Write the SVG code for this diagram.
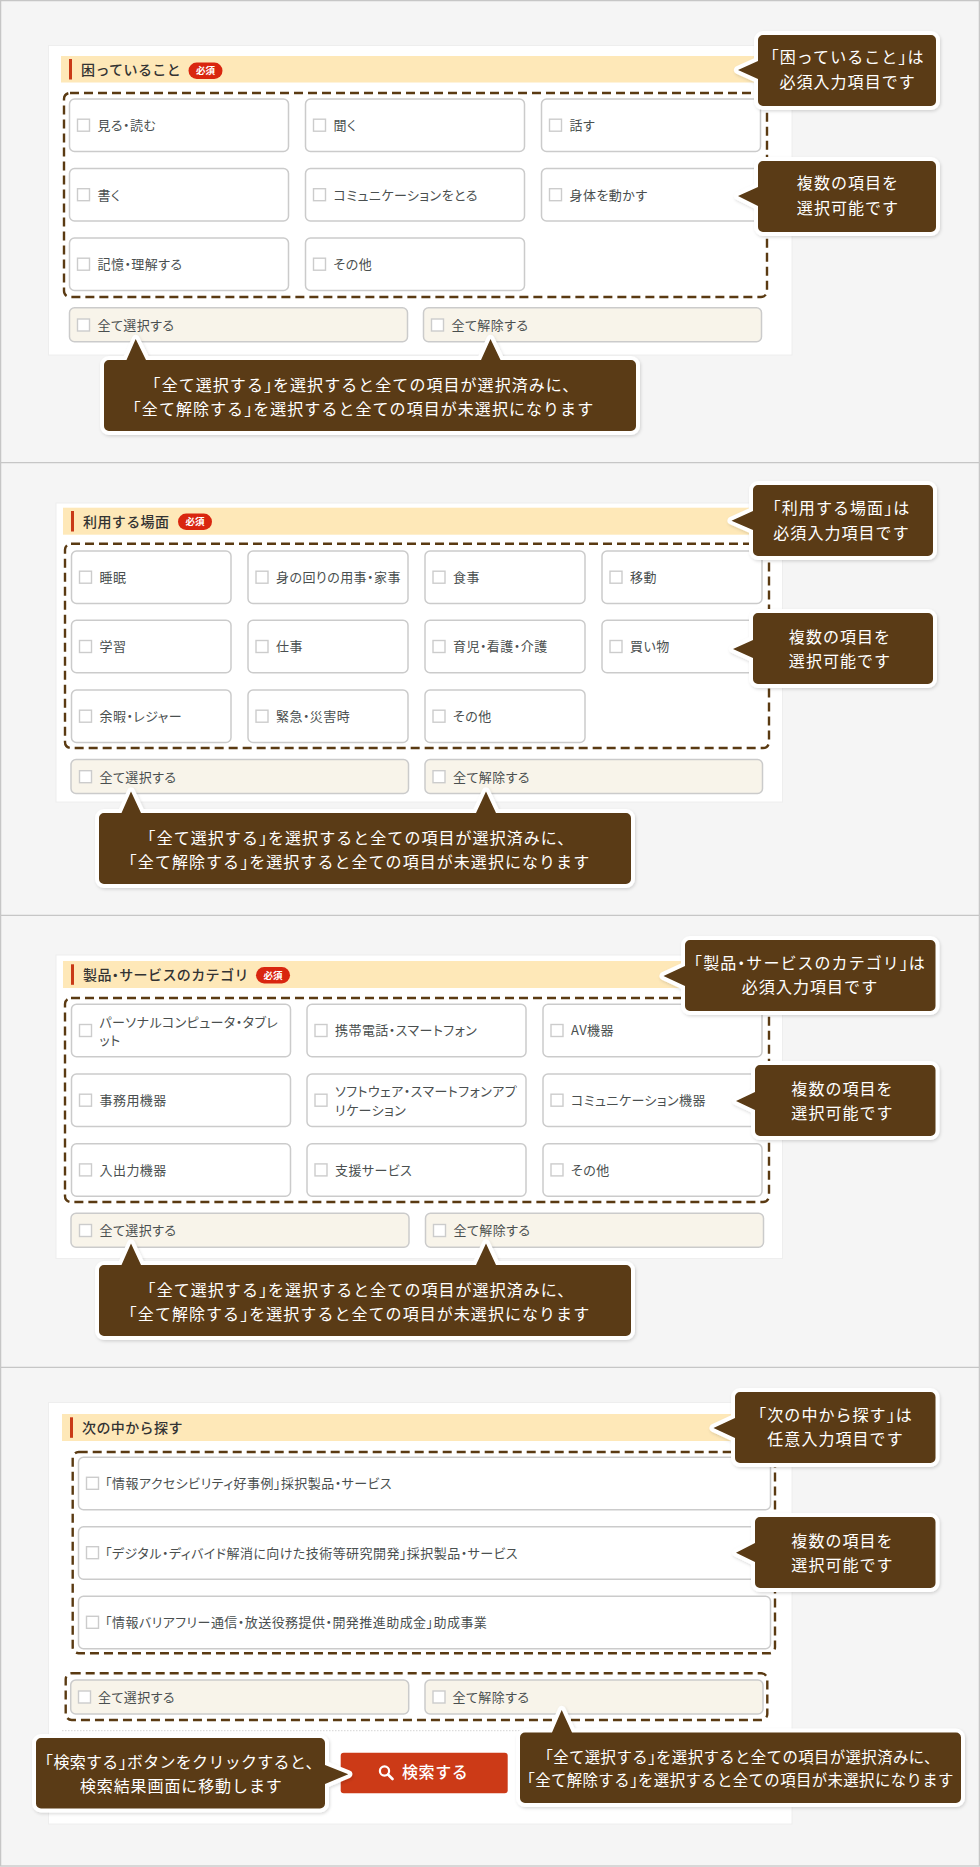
<svg xmlns="http://www.w3.org/2000/svg" width="980" height="1867" viewBox="0 0 980 1867">
<defs>
<filter id="sh" x="-10%" y="-20%" width="120%" height="140%"><feDropShadow dx="1" dy="1.5" stdDeviation="1.8" flood-color="#000" flood-opacity="0.14"/></filter>
<style>
text{font-family:"Noto Sans CJK JP","Noto Sans",sans-serif}
.h{font-feature-settings:"halt"}
.line{stroke:#c6c6c6;stroke-width:1.3;fill:none}
.card{fill:#fff;stroke:#eeeeee;stroke-width:1}
.band{fill:#fee8b8}
.bar{fill:#c93a17}
.title{font-size:14px;font-weight:500;fill:#333;letter-spacing:.4px}
.badge{fill:#d9260f}
.bt{font-size:9.5px;font-weight:700;fill:#fff;text-anchor:middle}
.dash{fill:none;stroke:#5a3a12;stroke-width:2.4;stroke-dasharray:9 5}
.opt{fill:#fff;stroke:#cbcbcb;stroke-width:1.5}
.sel{fill:#f8f4ea;stroke:#cbcbcb;stroke-width:1.5}
.cb{fill:#fff;stroke:#cccccc;stroke-width:1.4}
.t{font-size:13px;fill:#4a4f4f;letter-spacing:.45px;font-feature-settings:"palt"}
.co{fill:#5a3a12;stroke:#fff;stroke-width:8;stroke-linejoin:round;paint-order:stroke;filter:url(#sh)}
.ct{font-size:16px;fill:#fff;text-anchor:middle;letter-spacing:1.05px}
.s{font-size:15.4px;letter-spacing:.4px}
</style>
</defs>
<rect width="980" height="1867" fill="#f5f5f5"/>
<rect class="line" x="0.6" y="0.6" width="978.8" height="1865.4"/>
<path class="line" d="M0 462.6H980M0 915.4H980M0 1367.4H980"/>

<g id="panel-1">
<rect class="card" x="48.5" y="45.5" width="743.5" height="309.5"/>
<rect class="band" x="61" y="56" width="718" height="26.5"/>
<rect class="bar" x="69" y="59" width="3" height="20.5"/>
<text class="title" x="81" y="74.5">困っていること</text>
<rect class="badge" x="188.5" y="62.5" width="34" height="16.5" rx="8.2"/>
<text class="bt" x="205.5" y="74.2">必須</text>
<rect class="dash" x="64" y="93" width="703" height="204" rx="6"/>
<g id="p1-o1"><rect class="opt" x="69.5" y="99" width="219" height="52.5" rx="5"/><rect class="cb" x="77.5" y="119.2" width="12" height="12"/><text class="t" x="97.5" y="130">見る・読む</text></g>
<g id="p1-o2"><rect class="opt" x="305.5" y="99" width="219" height="52.5" rx="5"/><rect class="cb" x="313.5" y="119.2" width="12" height="12"/><text class="t" x="333.5" y="130">聞く</text></g>
<g id="p1-o3"><rect class="opt" x="541.5" y="99" width="219" height="52.5" rx="5"/><rect class="cb" x="549.5" y="119.2" width="12" height="12"/><text class="t" x="569.5" y="130">話す</text></g>
<g id="p1-o4"><rect class="opt" x="69.5" y="168.5" width="219" height="52.5" rx="5"/><rect class="cb" x="77.5" y="188.7" width="12" height="12"/><text class="t" x="97.5" y="199.5">書く</text></g>
<g id="p1-o5"><rect class="opt" x="305.5" y="168.5" width="219" height="52.5" rx="5"/><rect class="cb" x="313.5" y="188.7" width="12" height="12"/><text class="t" x="333.5" y="199.5">コミュニケーションをとる</text></g>
<g id="p1-o6"><rect class="opt" x="541.5" y="168.5" width="219" height="52.5" rx="5"/><rect class="cb" x="549.5" y="188.7" width="12" height="12"/><text class="t" x="569.5" y="199.5">身体を動かす</text></g>
<g id="p1-o7"><rect class="opt" x="69.5" y="238" width="219" height="52.5" rx="5"/><rect class="cb" x="77.5" y="258.2" width="12" height="12"/><text class="t" x="97.5" y="269">記憶・理解する</text></g>
<g id="p1-o8"><rect class="opt" x="305.5" y="238" width="219" height="52.5" rx="5"/><rect class="cb" x="313.5" y="258.2" width="12" height="12"/><text class="t" x="333.5" y="269">その他</text></g>
<g id="p1-all"><rect class="sel" x="69.5" y="307.8" width="338" height="34" rx="5"/><rect class="cb" x="77.5" y="319" width="12" height="12"/><text class="t" x="97.5" y="329.8">全て選択する</text></g>
<g id="p1-none"><rect class="sel" x="423.5" y="307.8" width="338" height="34" rx="5"/><rect class="cb" x="431.5" y="319" width="12" height="12"/><text class="t" x="451.5" y="329.8">全て解除する</text></g>
</g>

<g id="panel-2">
<rect class="card" x="56" y="503" width="726.5" height="299"/>
<rect class="band" x="63" y="507.7" width="716" height="27"/>
<rect class="bar" x="71" y="511" width="3" height="20.5"/>
<text class="title" x="83" y="526.5">利用する場面</text>
<rect class="badge" x="178" y="513.5" width="34" height="16.5" rx="8.2"/>
<text class="bt" x="195" y="525.2">必須</text>
<rect class="dash" x="65" y="543.7" width="704" height="204.3" rx="6"/>
<g id="p2-o1"><rect class="opt" x="71.5" y="551" width="159.5" height="52.5" rx="5"/><rect class="cb" x="79.5" y="571.2" width="12" height="12"/><text class="t" x="99.5" y="582">睡眠</text></g>
<g id="p2-o2"><rect class="opt" x="248" y="551" width="160" height="52.5" rx="5"/><rect class="cb" x="256" y="571.2" width="12" height="12"/><text class="t" x="276" y="582">身の回りの用事・家事</text></g>
<g id="p2-o3"><rect class="opt" x="425" y="551" width="160" height="52.5" rx="5"/><rect class="cb" x="433" y="571.2" width="12" height="12"/><text class="t" x="453" y="582">食事</text></g>
<g id="p2-o4"><rect class="opt" x="602" y="551" width="160" height="52.5" rx="5"/><rect class="cb" x="610" y="571.2" width="12" height="12"/><text class="t" x="630" y="582">移動</text></g>
<g id="p2-o5"><rect class="opt" x="71.5" y="620.3" width="159.5" height="52.5" rx="5"/><rect class="cb" x="79.5" y="640.5" width="12" height="12"/><text class="t" x="99.5" y="651.3">学習</text></g>
<g id="p2-o6"><rect class="opt" x="248" y="620.3" width="160" height="52.5" rx="5"/><rect class="cb" x="256" y="640.5" width="12" height="12"/><text class="t" x="276" y="651.3">仕事</text></g>
<g id="p2-o7"><rect class="opt" x="425" y="620.3" width="160" height="52.5" rx="5"/><rect class="cb" x="433" y="640.5" width="12" height="12"/><text class="t" x="453" y="651.3">育児・看護・介護</text></g>
<g id="p2-o8"><rect class="opt" x="602" y="620.3" width="160" height="52.5" rx="5"/><rect class="cb" x="610" y="640.5" width="12" height="12"/><text class="t" x="630" y="651.3">買い物</text></g>
<g id="p2-o9"><rect class="opt" x="71.5" y="690" width="159.5" height="52.5" rx="5"/><rect class="cb" x="79.5" y="710.2" width="12" height="12"/><text class="t" x="99.5" y="721">余暇・レジャー</text></g>
<g id="p2-o10"><rect class="opt" x="248" y="690" width="160" height="52.5" rx="5"/><rect class="cb" x="256" y="710.2" width="12" height="12"/><text class="t" x="276" y="721">緊急・災害時</text></g>
<g id="p2-o11"><rect class="opt" x="425" y="690" width="160" height="52.5" rx="5"/><rect class="cb" x="433" y="710.2" width="12" height="12"/><text class="t" x="453" y="721">その他</text></g>
<g id="p2-all"><rect class="sel" x="71" y="759.5" width="337.5" height="34" rx="5"/><rect class="cb" x="79.5" y="770.7" width="12" height="12"/><text class="t" x="99.5" y="781.5">全て選択する</text></g>
<g id="p2-none"><rect class="sel" x="425" y="759.5" width="337.5" height="34" rx="5"/><rect class="cb" x="433" y="770.7" width="12" height="12"/><text class="t" x="453" y="781.5">全て解除する</text></g>
</g>

<g id="panel-3">
<rect class="card" x="56" y="955" width="726.5" height="303.5"/>
<rect class="band" x="63" y="961" width="716" height="27"/>
<rect class="bar" x="71" y="964.3" width="3" height="20.5"/>
<text class="title" x="83" y="979.7">製品<tspan class="h">・</tspan>サービスのカテゴリ</text>
<rect class="badge" x="256" y="967" width="34" height="16.5" rx="8.2"/>
<text class="bt" x="273" y="978.7">必須</text>
<rect class="dash" x="65" y="998" width="704" height="204" rx="6"/>
<g id="p3-o1"><rect class="opt" x="71.5" y="1004.3" width="219" height="52.5" rx="5"/><rect class="cb" x="79.5" y="1024.5" width="12" height="12"/><text class="t" x="99.5" y="1026.5">パーソナルコンピュータ・タブレ</text><text class="t" x="99.5" y="1045">ット</text></g>
<g id="p3-o2"><rect class="opt" x="307" y="1004.3" width="219" height="52.5" rx="5"/><rect class="cb" x="315" y="1024.5" width="12" height="12"/><text class="t" x="335" y="1035.3">携帯電話・スマートフォン</text></g>
<g id="p3-o3"><rect class="opt" x="543" y="1004.3" width="219" height="52.5" rx="5"/><rect class="cb" x="551" y="1024.5" width="12" height="12"/><text class="t" x="571" y="1035.3">AV機器</text></g>
<g id="p3-o4"><rect class="opt" x="71.5" y="1074" width="219" height="52.5" rx="5"/><rect class="cb" x="79.5" y="1094.2" width="12" height="12"/><text class="t" x="99.5" y="1105">事務用機器</text></g>
<g id="p3-o5"><rect class="opt" x="307" y="1074" width="219" height="52.5" rx="5"/><rect class="cb" x="315" y="1094.2" width="12" height="12"/><text class="t" x="335" y="1096.3">ソフトウェア・スマートフォンアプ</text><text class="t" x="335" y="1114.7">リケーション</text></g>
<g id="p3-o6"><rect class="opt" x="543" y="1074" width="219" height="52.5" rx="5"/><rect class="cb" x="551" y="1094.2" width="12" height="12"/><text class="t" x="571" y="1105">コミュニケーション機器</text></g>
<g id="p3-o7"><rect class="opt" x="71.5" y="1143.7" width="219" height="52.5" rx="5"/><rect class="cb" x="79.5" y="1163.9" width="12" height="12"/><text class="t" x="99.5" y="1174.7">入出力機器</text></g>
<g id="p3-o8"><rect class="opt" x="307" y="1143.7" width="219" height="52.5" rx="5"/><rect class="cb" x="315" y="1163.9" width="12" height="12"/><text class="t" x="335" y="1174.7">支援サービス</text></g>
<g id="p3-o9"><rect class="opt" x="543" y="1143.7" width="219" height="52.5" rx="5"/><rect class="cb" x="551" y="1163.9" width="12" height="12"/><text class="t" x="571" y="1174.7">その他</text></g>
<g id="p3-all"><rect class="sel" x="71" y="1213.3" width="338" height="34" rx="5"/><rect class="cb" x="79.5" y="1224.5" width="12" height="12"/><text class="t" x="99.5" y="1235.3">全て選択する</text></g>
<g id="p3-none"><rect class="sel" x="425.5" y="1213.3" width="338" height="34" rx="5"/><rect class="cb" x="433.5" y="1224.5" width="12" height="12"/><text class="t" x="453.5" y="1235.3">全て解除する</text></g>
</g>

<g id="panel-4">
<rect class="card" x="48.5" y="1402.5" width="743.5" height="421.5"/>
<rect class="band" x="62" y="1414" width="717" height="27"/>
<rect class="bar" x="70" y="1417.3" width="3" height="20.5"/>
<text class="title" x="82" y="1432.7">次の中から探す</text>
<rect class="dash" x="72.7" y="1452" width="702.3" height="201.3" rx="6"/>
<g id="p4-o1"><rect class="opt" x="78.5" y="1457.3" width="692" height="52.5" rx="5"/><rect class="cb" x="86.5" y="1477.3" width="12" height="12"/><text class="t" x="105" y="1488">「情報アクセシビリティ好事例」採択製品・サービス</text></g>
<g id="p4-o2"><rect class="opt" x="78.5" y="1526.7" width="692" height="52.5" rx="5"/><rect class="cb" x="86.5" y="1546.7" width="12" height="12"/><text class="t" x="105" y="1557.5">「デジタル・ディバイド解消に向けた技術等研究開発」採択製品・サービス</text></g>
<g id="p4-o3"><rect class="opt" x="78.5" y="1596.3" width="692" height="52.5" rx="5"/><rect class="cb" x="86.5" y="1616.3" width="12" height="12"/><text class="t" x="105" y="1627.1">「情報バリアフリー通信・放送役務提供・開発推進助成金」助成事業</text></g>
<rect class="dash" x="65.7" y="1673.3" width="701.6" height="46.7" rx="6"/>
<g id="p4-all"><rect class="sel" x="70.7" y="1680" width="338" height="34" rx="5"/><rect class="cb" x="78.5" y="1691" width="12" height="12"/><text class="t" x="98" y="1701.8">全て選択する</text></g>
<g id="p4-none"><rect class="sel" x="425" y="1680" width="338" height="34" rx="5"/><rect class="cb" x="433" y="1691" width="12" height="12"/><text class="t" x="452.5" y="1701.8">全て解除する</text></g>
<path d="M62 1730.7H780" fill="none" stroke="#d4d4d4" stroke-width="1" stroke-dasharray="1.5 1.5"/>
<g id="search-button">
<rect x="340.7" y="1752.7" width="167" height="40.6" rx="3" fill="#cc3a17"/>
<circle cx="384.5" cy="1771" r="4.6" fill="none" stroke="#fff" stroke-width="2.2"/>
<path d="M388 1774.5L392.5 1779" stroke="#fff" stroke-width="2.6" stroke-linecap="round" fill="none"/>
<text x="402" y="1778" font-size="16" font-weight="500" fill="#fff" letter-spacing=".6">検索する</text>
</g>
</g>

<g id="callouts">
<g id="c1-1"><path class="co" d="M763 35H931a5 5 0 0 1 5 5V101a5 5 0 0 1-5 5H763a5 5 0 0 1-5-5V79L738 70L758 61V40a5 5 0 0 1 5-5Z"/><text class="ct" x="847.6" y="63"><tspan class="h">「</tspan>困っていること<tspan class="h">」</tspan>は</text><text class="ct" x="847.6" y="88">必須入力項目です</text></g>
<g id="c1-2"><path class="co" d="M763 161H931a5 5 0 0 1 5 5V227a5 5 0 0 1-5 5H763a5 5 0 0 1-5-5V206L738 196L758 187V166a5 5 0 0 1 5-5Z"/><text class="ct" x="848" y="189">複数の項目を</text><text class="ct" x="848" y="214">選択可能です</text></g>
<g id="c1-3"><path class="co" d="M109 360H126.5L135.7 339L146 360H481L490.5 339L500.5 360H631a5 5 0 0 1 5 5V426a5 5 0 0 1-5 5H109a5 5 0 0 1-5-5V365a5 5 0 0 1 5-5Z"/><text class="ct" x="366" y="391"><tspan class="h">「</tspan>全て選択する<tspan class="h">」</tspan>を選択すると全ての項目が選択済みに、</text><text class="ct" x="363.5" y="415"><tspan class="h">「</tspan>全て解除する<tspan class="h">」</tspan>を選択すると全ての項目が未選択になります</text></g>

<g id="c2-1"><path class="co" d="M758 485H928a5 5 0 0 1 5 5V551a5 5 0 0 1-5 5H758a5 5 0 0 1-5-5V530L731.5 520.7L753 511V490a5 5 0 0 1 5-5Z"/><text class="ct" x="841.5" y="514"><tspan class="h">「</tspan>利用する場面<tspan class="h">」</tspan>は</text><text class="ct" x="841.5" y="538.5">必須入力項目です</text></g>
<g id="c2-2"><path class="co" d="M758 613H928a5 5 0 0 1 5 5V679a5 5 0 0 1-5 5H758a5 5 0 0 1-5-5V658L733 649L753 640V618a5 5 0 0 1 5-5Z"/><text class="ct" x="840" y="643">複数の項目を</text><text class="ct" x="840" y="667">選択可能です</text></g>
<g id="c2-3"><path class="co" d="M104 813H121.5L131 791.5L141 813H476L486 791.5L496 813H626a5 5 0 0 1 5 5V879a5 5 0 0 1-5 5H104a5 5 0 0 1-5-5V818a5 5 0 0 1 5-5Z"/><text class="ct" x="361" y="844"><tspan class="h">「</tspan>全て選択する<tspan class="h">」</tspan>を選択すると全ての項目が選択済みに、</text><text class="ct" x="359.5" y="868"><tspan class="h">「</tspan>全て解除する<tspan class="h">」</tspan>を選択すると全ての項目が未選択になります</text></g>

<g id="c3-1"><path class="co" d="M690 940H930.5a5 5 0 0 1 5 5V1006a5 5 0 0 1-5 5H690a5 5 0 0 1-5-5V986L663.5 976L685 966V945a5 5 0 0 1 5-5Z"/><text class="ct" x="810" y="968.7"><tspan class="h">「</tspan>製品<tspan class="h">・</tspan>サービスのカテゴリ<tspan class="h">」</tspan>は</text><text class="ct" x="810" y="992.7">必須入力項目です</text></g>
<g id="c3-2"><path class="co" d="M760 1065H930.5a5 5 0 0 1 5 5V1131a5 5 0 0 1-5 5H760a5 5 0 0 1-5-5V1110L736 1101L755 1092V1070a5 5 0 0 1 5-5Z"/><text class="ct" x="842.5" y="1095">複数の項目を</text><text class="ct" x="842.5" y="1119">選択可能です</text></g>
<g id="c3-3"><path class="co" d="M104 1265H121.5L131 1243.5L141 1265H476L486 1243.5L496 1265H626a5 5 0 0 1 5 5V1331a5 5 0 0 1-5 5H104a5 5 0 0 1-5-5V1270a5 5 0 0 1 5-5Z"/><text class="ct" x="361" y="1296"><tspan class="h">「</tspan>全て選択する<tspan class="h">」</tspan>を選択すると全ての項目が選択済みに、</text><text class="ct" x="359.5" y="1320"><tspan class="h">「</tspan>全て解除する<tspan class="h">」</tspan>を選択すると全ての項目が未選択になります</text></g>

<g id="c4-1"><path class="co" d="M740 1392H930.5a5 5 0 0 1 5 5V1458a5 5 0 0 1-5 5H740a5 5 0 0 1-5-5V1438L713.5 1428L735 1418V1397a5 5 0 0 1 5-5Z"/><text class="ct" x="835.5" y="1421"><tspan class="h">「</tspan>次の中から探す<tspan class="h">」</tspan>は</text><text class="ct" x="835.5" y="1445.3">任意入力項目です</text></g>
<g id="c4-2"><path class="co" d="M760 1517H930.5a5 5 0 0 1 5 5V1583a5 5 0 0 1-5 5H760a5 5 0 0 1-5-5V1562L736 1552.7L755 1543V1522a5 5 0 0 1 5-5Z"/><text class="ct" x="842.5" y="1547">複数の項目を</text><text class="ct" x="842.5" y="1571">選択可能です</text></g>
<g id="c4-3"><path class="co" d="M525 1732.5H552L561.7 1710L572 1732.5H956a5 5 0 0 1 5 5V1798a5 5 0 0 1-5 5H525a5 5 0 0 1-5-5V1737.5a5 5 0 0 1 5-5Z"/><text class="ct s" x="742.5" y="1762.5"><tspan class="h">「</tspan>全て選択する<tspan class="h">」</tspan>を選択すると全ての項目が選択済みに、</text><text class="ct s" x="740.5" y="1785.8"><tspan class="h">「</tspan>全て解除する<tspan class="h">」</tspan>を選択すると全ての項目が未選択になります</text></g>
<g id="c4-4"><path class="co" d="M41 1738H320a5 5 0 0 1 5 5V1765L348.3 1774.3L325 1784V1803.5a5 5 0 0 1-5 5H41a5 5 0 0 1-5-5V1743a5 5 0 0 1 5-5Z"/><text class="ct" style="letter-spacing:.3px" x="183.5" y="1767.7"><tspan class="h">「</tspan>検索する<tspan class="h">」</tspan>ボタンをクリックすると、</text><text class="ct" style="letter-spacing:.9px" x="181.3" y="1792">検索結果画面に移動します</text></g>
</g>
</svg>
